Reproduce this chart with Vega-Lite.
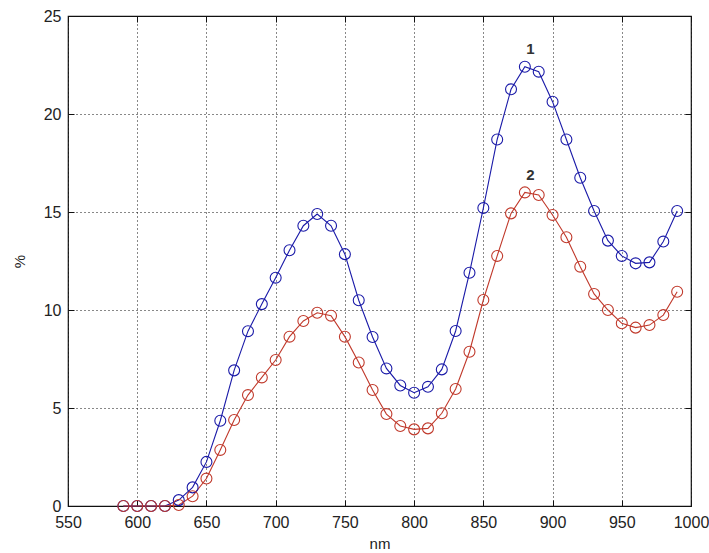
{
  "$schema": "https://vega.github.io/schema/vega-lite/v6.json",
  "width": 623,
  "height": 490,
  "autosize": {"type": "none"},
  "padding": {"left": 68, "top": 16, "right": 18, "bottom": 47},
  "background": "white",
  "config": {
    "view": {"stroke": "#111", "strokeWidth": 1.2},
    "font": "Liberation Sans",
    "axis": {
      "labelFont": "Liberation Sans",
      "titleFont": "Liberation Sans",
      "labelColor": "#222",
      "titleColor": "#222",
      "titleFontWeight": "normal",
      "domain": false
    }
  },
  "resolve": {"axis": {"x": "independent", "y": "independent"}},
  "datasets": {
    "series": [
      {"nm": 590, "v": 0, "s": "1"}, {"nm": 600, "v": 0, "s": "1"}, {"nm": 610, "v": 0, "s": "1"}, {"nm": 620, "v": 0, "s": "1"},
      {"nm": 630, "v": 0.3, "s": "1"}, {"nm": 640, "v": 0.95, "s": "1"}, {"nm": 650, "v": 2.25, "s": "1"}, {"nm": 660, "v": 4.35, "s": "1"},
      {"nm": 670, "v": 6.92, "s": "1"}, {"nm": 680, "v": 8.92, "s": "1"}, {"nm": 690, "v": 10.3, "s": "1"}, {"nm": 700, "v": 11.65, "s": "1"},
      {"nm": 710, "v": 13.05, "s": "1"}, {"nm": 720, "v": 14.3, "s": "1"}, {"nm": 730, "v": 14.9, "s": "1"}, {"nm": 740, "v": 14.3, "s": "1"},
      {"nm": 750, "v": 12.85, "s": "1"}, {"nm": 760, "v": 10.5, "s": "1"}, {"nm": 770, "v": 8.62, "s": "1"}, {"nm": 780, "v": 7.02, "s": "1"},
      {"nm": 790, "v": 6.15, "s": "1"}, {"nm": 800, "v": 5.78, "s": "1"}, {"nm": 810, "v": 6.08, "s": "1"}, {"nm": 820, "v": 6.97, "s": "1"},
      {"nm": 830, "v": 8.93, "s": "1"}, {"nm": 840, "v": 11.9, "s": "1"}, {"nm": 850, "v": 15.2, "s": "1"}, {"nm": 860, "v": 18.7, "s": "1"},
      {"nm": 870, "v": 21.26, "s": "1"}, {"nm": 880, "v": 22.41, "s": "1"}, {"nm": 890, "v": 22.16, "s": "1"}, {"nm": 900, "v": 20.63, "s": "1"},
      {"nm": 910, "v": 18.7, "s": "1"}, {"nm": 920, "v": 16.75, "s": "1"}, {"nm": 930, "v": 15.05, "s": "1"}, {"nm": 940, "v": 13.54, "s": "1"},
      {"nm": 950, "v": 12.76, "s": "1"}, {"nm": 960, "v": 12.38, "s": "1"}, {"nm": 970, "v": 12.43, "s": "1"}, {"nm": 980, "v": 13.49, "s": "1"},
      {"nm": 990, "v": 15.05, "s": "1"},
      {"nm": 590, "v": 0, "s": "2"}, {"nm": 600, "v": 0, "s": "2"}, {"nm": 610, "v": 0, "s": "2"}, {"nm": 620, "v": 0, "s": "2"},
      {"nm": 630, "v": 0.05, "s": "2"}, {"nm": 640, "v": 0.5, "s": "2"}, {"nm": 650, "v": 1.4, "s": "2"}, {"nm": 660, "v": 2.86, "s": "2"},
      {"nm": 670, "v": 4.39, "s": "2"}, {"nm": 680, "v": 5.66, "s": "2"}, {"nm": 690, "v": 6.56, "s": "2"}, {"nm": 700, "v": 7.45, "s": "2"},
      {"nm": 710, "v": 8.64, "s": "2"}, {"nm": 720, "v": 9.44, "s": "2"}, {"nm": 730, "v": 9.86, "s": "2"}, {"nm": 740, "v": 9.71, "s": "2"},
      {"nm": 750, "v": 8.64, "s": "2"}, {"nm": 760, "v": 7.32, "s": "2"}, {"nm": 770, "v": 5.92, "s": "2"}, {"nm": 780, "v": 4.69, "s": "2"},
      {"nm": 790, "v": 4.08, "s": "2"}, {"nm": 800, "v": 3.91, "s": "2"}, {"nm": 810, "v": 3.96, "s": "2"}, {"nm": 820, "v": 4.73, "s": "2"},
      {"nm": 830, "v": 5.97, "s": "2"}, {"nm": 840, "v": 7.87, "s": "2"}, {"nm": 850, "v": 10.51, "s": "2"}, {"nm": 860, "v": 12.76, "s": "2"},
      {"nm": 870, "v": 14.93, "s": "2"}, {"nm": 880, "v": 16.0, "s": "2"}, {"nm": 890, "v": 15.87, "s": "2"}, {"nm": 900, "v": 14.85, "s": "2"},
      {"nm": 910, "v": 13.71, "s": "2"}, {"nm": 920, "v": 12.21, "s": "2"}, {"nm": 930, "v": 10.82, "s": "2"}, {"nm": 940, "v": 10.0, "s": "2"},
      {"nm": 950, "v": 9.32, "s": "2"}, {"nm": 960, "v": 9.1, "s": "2"}, {"nm": 970, "v": 9.23, "s": "2"}, {"nm": 980, "v": 9.74, "s": "2"},
      {"nm": 990, "v": 10.93, "s": "2"}
    ],
    "labels": [
      {"nm": 884, "v": 23.3, "t": "1"},
      {"nm": 884, "v": 16.9, "t": "2"}
    ]
  },
  "layer": [
    {
      "data": {"name": "series"},
      "mark": {"type": "line", "strokeWidth": 1.1},
      "encoding": {
        "x": {"field": "nm", "type": "quantitative", "scale": {"domain": [550, 1000], "nice": false},
              "axis": {"values": [550,600,650,700,750,800,850,900,950,1000], "format": "d", "title": "nm", "labelFontSize": 16, "titleFontSize": 15,
                       "grid": true, "gridDash": [1, 3], "gridColor": "#111", "gridOpacity": 1, "gridWidth": 1,
                       "tickSize": -6, "tickColor": "#111", "labelPadding": 14, "titlePadding": 6, "labelFlush": false}},
        "y": {"field": "v", "type": "quantitative", "scale": {"domain": [0, 25], "nice": false},
              "axis": {"values": [0,5,10,15,20,25], "title": "%", "labelFontSize": 16, "titleFontSize": 15,
                       "grid": true, "gridDash": [1, 3], "gridColor": "#111", "gridOpacity": 1, "gridWidth": 1,
                       "tickSize": -6, "tickColor": "#111", "labelPadding": 13, "titlePadding": 16, "labelFlush": false}},
        "color": {"field": "s", "type": "nominal", "scale": {"domain": ["1", "2"], "range": ["#1a1aa8", "#c0392b"]}, "legend": null},
        "detail": {"field": "s"}
      }
    },
    {
      "data": {"name": "series"},
      "mark": {"type": "point", "shape": "circle", "filled": false, "size": 120, "strokeWidth": 1.1, "opacity": 1},
      "encoding": {
        "x": {"field": "nm", "type": "quantitative",
              "axis": {"orient": "top", "values": [550,600,650,700,750,800,850,900,950,1000], "labels": false, "title": null, "grid": false, "tickSize": -6, "tickColor": "#111"}},
        "y": {"field": "v", "type": "quantitative",
              "axis": {"orient": "right", "values": [0,5,10,15,20,25], "labels": false, "title": null, "grid": false, "tickSize": -6, "tickColor": "#111"}},
        "color": {"field": "s", "type": "nominal", "legend": null}
      }
    },
    {
      "data": {"name": "labels"},
      "mark": {"type": "text", "fontSize": 15, "fontWeight": "bold", "color": "#333", "font": "Liberation Sans"},
      "encoding": {
        "x": {"field": "nm", "type": "quantitative", "axis": null},
        "y": {"field": "v", "type": "quantitative", "axis": null},
        "text": {"field": "t"}
      }
    }
  ]
}
